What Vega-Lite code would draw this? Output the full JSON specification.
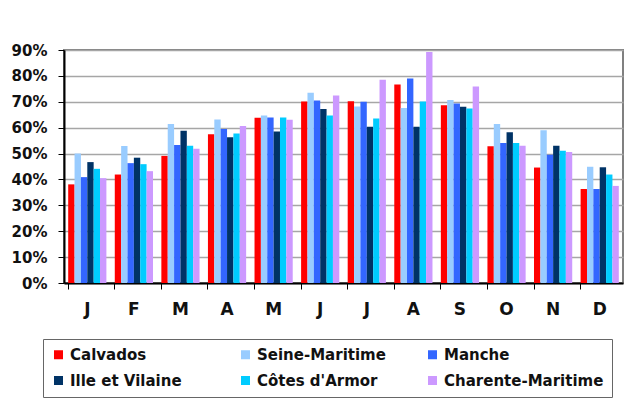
{
  "$schema": "https://vega.github.io/schema/vega-lite/v6.json",
  "width": 559,
  "height": 233,
  "autosize": {"type": "none"},
  "padding": {"left": 64, "top": 50, "right": 15, "bottom": 129},
  "background": "white",
  "config": {
    "view": {"stroke": "#808080", "strokeWidth": 2},
    "font": "DejaVu Sans",
    "scale": {"offsetBandPaddingInner": 0, "offsetBandPaddingOuter": 0}
  },
  "data": {
    "values": [
      {"mois": "Janvier", "dep": "Calvados", "v": 0.381},
      {"mois": "Janvier", "dep": "Seine-Maritime", "v": 0.500},
      {"mois": "Janvier", "dep": "Manche", "v": 0.409},
      {"mois": "Janvier", "dep": "Ille et Vilaine", "v": 0.467},
      {"mois": "Janvier", "dep": "Côtes d'Armor", "v": 0.441},
      {"mois": "Janvier", "dep": "Charente-Maritime", "v": 0.405},
      {"mois": "Février", "dep": "Calvados", "v": 0.419},
      {"mois": "Février", "dep": "Seine-Maritime", "v": 0.529},
      {"mois": "Février", "dep": "Manche", "v": 0.463},
      {"mois": "Février", "dep": "Ille et Vilaine", "v": 0.484},
      {"mois": "Février", "dep": "Côtes d'Armor", "v": 0.459},
      {"mois": "Février", "dep": "Charente-Maritime", "v": 0.432},
      {"mois": "Mars", "dep": "Calvados", "v": 0.491},
      {"mois": "Mars", "dep": "Seine-Maritime", "v": 0.614},
      {"mois": "Mars", "dep": "Manche", "v": 0.533},
      {"mois": "Mars", "dep": "Ille et Vilaine", "v": 0.588},
      {"mois": "Mars", "dep": "Côtes d'Armor", "v": 0.530},
      {"mois": "Mars", "dep": "Charente-Maritime", "v": 0.519},
      {"mois": "Avril", "dep": "Calvados", "v": 0.575},
      {"mois": "Avril", "dep": "Seine-Maritime", "v": 0.632},
      {"mois": "Avril", "dep": "Manche", "v": 0.595},
      {"mois": "Avril", "dep": "Ille et Vilaine", "v": 0.563},
      {"mois": "Avril", "dep": "Côtes d'Armor", "v": 0.577},
      {"mois": "Avril", "dep": "Charente-Maritime", "v": 0.606},
      {"mois": "Mai", "dep": "Calvados", "v": 0.638},
      {"mois": "Mai", "dep": "Seine-Maritime", "v": 0.647},
      {"mois": "Mai", "dep": "Manche", "v": 0.639},
      {"mois": "Mai", "dep": "Ille et Vilaine", "v": 0.585},
      {"mois": "Mai", "dep": "Côtes d'Armor", "v": 0.639},
      {"mois": "Mai", "dep": "Charente-Maritime", "v": 0.631},
      {"mois": "Juin", "dep": "Calvados", "v": 0.701},
      {"mois": "Juin", "dep": "Seine-Maritime", "v": 0.735},
      {"mois": "Juin", "dep": "Manche", "v": 0.705},
      {"mois": "Juin", "dep": "Ille et Vilaine", "v": 0.672},
      {"mois": "Juin", "dep": "Côtes d'Armor", "v": 0.647},
      {"mois": "Juin", "dep": "Charente-Maritime", "v": 0.724},
      {"mois": "Juillet", "dep": "Calvados", "v": 0.702},
      {"mois": "Juillet", "dep": "Seine-Maritime", "v": 0.682},
      {"mois": "Juillet", "dep": "Manche", "v": 0.700},
      {"mois": "Juillet", "dep": "Ille et Vilaine", "v": 0.604},
      {"mois": "Juillet", "dep": "Côtes d'Armor", "v": 0.635},
      {"mois": "Juillet", "dep": "Charente-Maritime", "v": 0.785},
      {"mois": "Août", "dep": "Calvados", "v": 0.767},
      {"mois": "Août", "dep": "Seine-Maritime", "v": 0.676},
      {"mois": "Août", "dep": "Manche", "v": 0.790},
      {"mois": "Août", "dep": "Ille et Vilaine", "v": 0.604},
      {"mois": "Août", "dep": "Côtes d'Armor", "v": 0.701},
      {"mois": "Août", "dep": "Charente-Maritime", "v": 0.892},
      {"mois": "Septembre", "dep": "Calvados", "v": 0.687},
      {"mois": "Septembre", "dep": "Seine-Maritime", "v": 0.707},
      {"mois": "Septembre", "dep": "Manche", "v": 0.693},
      {"mois": "Septembre", "dep": "Ille et Vilaine", "v": 0.681},
      {"mois": "Septembre", "dep": "Côtes d'Armor", "v": 0.674},
      {"mois": "Septembre", "dep": "Charente-Maritime", "v": 0.759},
      {"mois": "Octobre", "dep": "Calvados", "v": 0.528},
      {"mois": "Octobre", "dep": "Seine-Maritime", "v": 0.614},
      {"mois": "Octobre", "dep": "Manche", "v": 0.541},
      {"mois": "Octobre", "dep": "Ille et Vilaine", "v": 0.582},
      {"mois": "Octobre", "dep": "Côtes d'Armor", "v": 0.541},
      {"mois": "Octobre", "dep": "Charente-Maritime", "v": 0.530},
      {"mois": "Novembre", "dep": "Calvados", "v": 0.446},
      {"mois": "Novembre", "dep": "Seine-Maritime", "v": 0.590},
      {"mois": "Novembre", "dep": "Manche", "v": 0.495},
      {"mois": "Novembre", "dep": "Ille et Vilaine", "v": 0.530},
      {"mois": "Novembre", "dep": "Côtes d'Armor", "v": 0.511},
      {"mois": "Novembre", "dep": "Charente-Maritime", "v": 0.506},
      {"mois": "Décembre", "dep": "Calvados", "v": 0.363},
      {"mois": "Décembre", "dep": "Seine-Maritime", "v": 0.449},
      {"mois": "Décembre", "dep": "Manche", "v": 0.363},
      {"mois": "Décembre", "dep": "Ille et Vilaine", "v": 0.447},
      {"mois": "Décembre", "dep": "Côtes d'Armor", "v": 0.419},
      {"mois": "Décembre", "dep": "Charente-Maritime", "v": 0.375}
    ]
  },
  "mark": {"type": "bar"},
  "encoding": {
    "x": {
      "field": "mois",
      "type": "nominal",
      "scale": {
        "domain": ["Janvier","Février","Mars","Avril","Mai","Juin","Juillet","Août","Septembre","Octobre","Novembre","Décembre"],
        "paddingInner": 0.18,
        "paddingOuter": 0.09
      },
      "axis": {
        "title": null,
        "labelAngle": 0,
        "labelExpr": "datum.label == 'Janvier' || datum.label == 'Juin' || datum.label == 'Juillet' ? 'J' : datum.label == 'Février' ? 'F' : datum.label == 'Mars' || datum.label == 'Mai' ? 'M' : datum.label == 'Avril' || datum.label == 'Août' ? 'A' : datum.label == 'Septembre' ? 'S' : datum.label == 'Octobre' ? 'O' : datum.label == 'Novembre' ? 'N' : 'D'",
        "labelFont": "DejaVu Sans",
        "labelFontWeight": "bold",
        "labelFontSize": 17,
        "labelColor": "#111111",
        "labelPadding": 12,
        "bandPosition": 0,
        "tickSize": 6,
        "tickColor": "#000000",
        "domainColor": "#000000",
        "domainWidth": 2,
        "grid": false
      }
    },
    "xOffset": {
      "field": "dep",
      "type": "nominal",
      "scale": {
        "domain": ["Calvados","Seine-Maritime","Manche","Ille et Vilaine","Côtes d'Armor","Charente-Maritime"]
      }
    },
    "y": {
      "field": "v",
      "type": "quantitative",
      "scale": {"domain": [0, 0.9], "nice": false},
      "axis": {
        "title": null,
        "values": [0, 0.1, 0.2, 0.3, 0.4, 0.5, 0.6, 0.7, 0.8, 0.9],
        "format": ".0%",
        "labelFont": "DejaVu Sans",
        "labelFontWeight": "bold",
        "labelFontSize": 15,
        "labelColor": "#111111",
        "labelPadding": 11,
        "tickSize": 6,
        "tickColor": "#000000",
        "domainColor": "#000000",
        "domainWidth": 2,
        "grid": true,
        "gridColor": "#A6A6A6",
        "gridWidth": 1.5
      }
    },
    "color": {
      "field": "dep",
      "type": "nominal",
      "scale": {
        "domain": ["Calvados","Seine-Maritime","Manche","Ille et Vilaine","Côtes d'Armor","Charente-Maritime"],
        "range": ["#FF0000","#99CCFF","#3366FF","#003366","#00CCFF","#CC99FF"]
      },
      "legend": {
        "title": null,
        "orient": "none",
        "legendX": -21,
        "legendY": 289,
        "direction": "horizontal",
        "columns": 3,
        "gridAlign": "all",
        "columnPadding": 8,
        "rowPadding": 10,
        "padding": 8,
        "strokeColor": "#666666",
        "symbolType": "square",
        "symbolSize": 81,
        "symbolStrokeWidth": 0,
        "labelFont": "DejaVu Sans",
        "labelFontWeight": "bold",
        "labelFontSize": 15,
        "labelColor": "#111111",
        "labelLimit": 300
      }
    }
  }
}
